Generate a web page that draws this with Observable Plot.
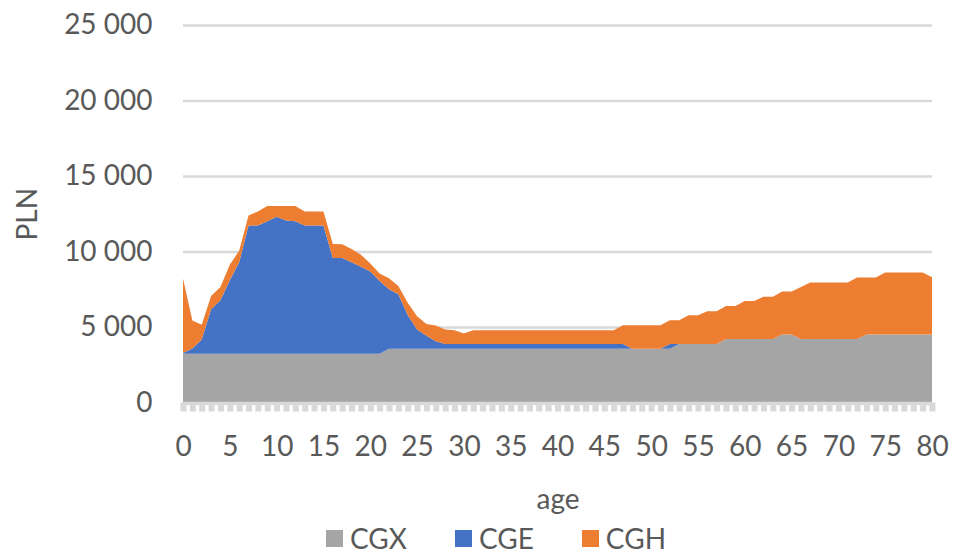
<!DOCTYPE html>
<html>
<head>
<meta charset="utf-8">
<script src="https://cdn.jsdelivr.net/npm/d3@7"></script>
<script src="https://cdn.jsdelivr.net/npm/@observablehq/plot@0.6"></script>
<style>
  html, body { margin: 0; padding: 0; background: #fff; overflow: hidden; }
  #chart svg { display: block; }
  #legend { display: flex; justify-content: center; align-items: center; padding-left: 84px; margin-top: 4px; height: 28px; overflow: visible; }
  #legend > div { min-height: 28px !important; line-height: 1 !important; margin: 0 !important; }
  #legend [class$="-swatch"] { margin-right: 48px !important; line-height: 1 !important; }
  #legend [class$="-swatch"] > svg { margin-right: 7px !important; }
</style>
</head>
<body>
<div id="chart"></div>
<div id="legend"></div>
<script>
// ---- data ----
const ages = d3.range(0, 81);
const series = ["CGX", "CGE", "CGH"];
const colors = ["#A5A5A5", "#4472C4", "#ED7D31"];

const CGX = [
  3230,3230,3230,3230,3230,3230,3230,3230,3230,3230,
  3230,3230,3230,3230,3230,3230,3230,3230,3230,3230,
  3230,3230,3560,3560,3560,3560,3560,3560,3560,3560,
  3560,3560,3560,3560,3560,3560,3560,3560,3560,3560,
  3560,3560,3560,3560,3560,3560,3560,3560,3560,3560,
  3560,3560,3560,3880,3880,3880,3880,3880,4210,4210,
  4210,4210,4210,4210,4500,4500,4210,4210,4210,4210,
  4210,4210,4210,4500,4500,4500,4500,4500,4500,4500,
  4500
];
const CGE = [
  50,340,940,2940,3540,4870,6050,8490,8490,8780,
  9070,8820,8780,8490,8490,8490,6340,6340,6050,5760,
  5450,4820,3940,3610,2230,1270,860,490,320,320,
  320,320,320,320,320,320,320,320,320,320,
  320,320,320,320,320,320,320,320,0,0,
  0,0,320,0,0,0,0,0,0,0,
  0,0,0,0,0,0,0,0,0,0,
  0,0,0,0,0,0,0,0,0,0,
  0
];
const CGH = [
  4930,1860,980,880,880,1020,770,670,930,1000,
  710,960,1000,930,930,930,930,910,890,800,
  530,490,730,550,820,890,780,1050,950,910,
  690,910,910,910,910,910,910,910,910,910,
  910,910,910,910,910,910,910,1240,1560,1560,
  1560,1560,1570,1570,1890,1890,2170,2170,2180,2180,
  2510,2510,2800,2800,2850,2850,3440,3740,3740,3740,
  3740,3740,4070,3780,3780,4110,4110,4110,4110,4110,
  3800
];

const xTicks = [0,5,10,15,20,25,30,35,40,45,50,55,60,65,70,75,80];
const yTicks = [0,5000,10000,15000,20000,25000];
const yTickLabels = ["0","5 000","10 000","15 000","20 000","25 000"];

// ---- long table built from the arrays ----
const valuesBySeries = {CGX, CGE, CGH};
const data = series.flatMap(s => ages.map((a, i) => ({age: a, series: s, value: valuesBySeries[s][i]})));

const chart = Plot.plot({
  width: 956,
  height: 520,
  marginLeft: 183,
  marginRight: 24,
  marginTop: 25,
  marginBottom: 117.5,
  style: {fontFamily: "Lato, 'Open Sans', sans-serif", fontSize: "28px", color: "#595959", background: "#fff"},
  x: {domain: [0, 80]},
  y: {domain: [0, 25000]},
  color: {domain: series, range: colors},
  marks: [
    Plot.gridY({ticks: yTicks.slice(1), stroke: "#D9D9D9", strokeOpacity: 1, strokeWidth: 2.6}),
    Plot.areaY(data, Plot.stackY({x: "age", y: "value", fill: "series", order: series, curve: "linear"})),
    Plot.ruleY([0], {stroke: "#D9D9D9", strokeWidth: 3.5, dy: 0.5}),
    Plot.axisX({ticks: ages, tickSize: 9, tickFormat: () => "", stroke: "#D9D9D9", strokeWidth: 6, label: null}),
    Plot.axisX({ticks: xTicks, tickSize: 0, tickPadding: 33, tickFormat: d => String(d),
      label: "age", labelAnchor: "center", labelOffset: 106, labelArrow: "none"}),
    Plot.axisY({ticks: yTicks, tickSize: 0, tickPadding: 31,
      tickFormat: d => yTickLabels[yTicks.indexOf(d)],
      label: "PLN", labelAnchor: "center", labelOffset: 166, labelArrow: "none"})
  ]
});
document.getElementById("chart").appendChild(chart);

const legend = Plot.legend({
  color: {domain: series, range: colors},
  legend: "swatches",
  swatchSize: 17,
  style: {fontFamily: "Lato, 'Open Sans', sans-serif", fontSize: "28px", color: "#595959", lineHeight: "1"}
});
document.getElementById("legend").appendChild(legend);
</script>
</body>
</html>
